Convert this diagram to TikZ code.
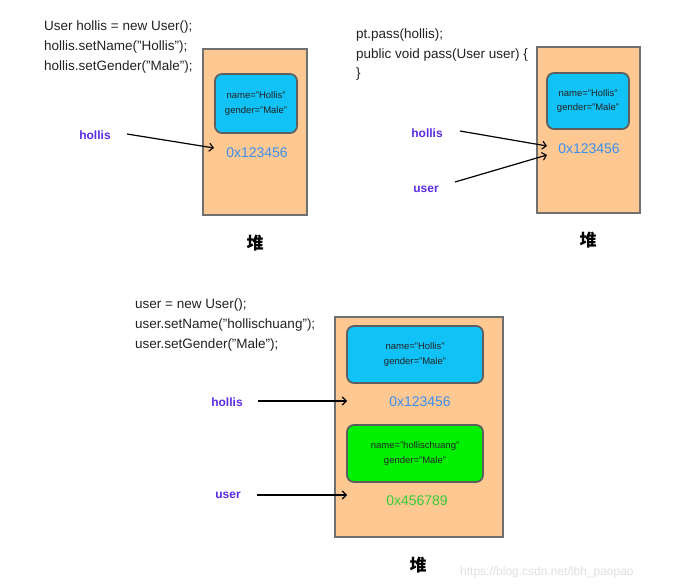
\documentclass[tikz,border=0pt]{standalone}
\usepackage{fontspec}
\setmainfont{Liberation Sans}
\newfontfamily\cjk{Noto Sans CJK SC}
\usetikzlibrary{arrows.meta}
\definecolor{heapfill}{HTML}{FEC892}
\definecolor{heapdraw}{HTML}{707070}
\definecolor{objblue}{HTML}{11C2F6}
\definecolor{objgreen}{HTML}{00F000}
\definecolor{objdraw}{HTML}{5E5E5E}
\definecolor{varpurple}{HTML}{5A2BE3}
\definecolor{addrblue}{HTML}{3C8EEE}
\definecolor{addrgreen}{HTML}{35CC35}
\definecolor{codegray}{HTML}{222222}
\tikzset{
  heapbox/.style={draw=heapdraw, fill=heapfill, line width=1.8pt, inner sep=0pt},
  objbox/.style={draw=objdraw, line width=1.8pt, rounded corners=7pt, inner sep=0pt, align=center, font=\fontsize{9.5}{14.5}\selectfont, text=codegray},
  code/.style={anchor=west, inner sep=0pt, font=\fontsize{13.5}{15}\selectfont, text=codegray},
  varname/.style={inner sep=1pt, font=\bfseries\fontsize{12}{14}\selectfont, text=varpurple},
  addr/.style={inner sep=0pt, font=\fontsize{14}{16}\selectfont},
  heaplabel/.style={inner sep=0pt, font=\cjk\bfseries\fontsize{17}{19}\selectfont},
  ptr/.style={-{Straight Barb[length=4pt,width=8pt,line width=1.1pt]}, line width=1.2pt, black}
}
\begin{document}
\begin{tikzpicture}[x=1pt,y=-1pt]
\useasboundingbox[fill=white] (0,0) rectangle (696,588);
% ---------- panel 1 ----------
\node[code] (c1a) at (44,27) {User hollis = new User();};
\node[code] (c1b) at (44,47) {hollis.setName("Hollis");};
\node[code] (c1c) at (44,67) {hollis.setGender("Male");};
\node[heapbox, minimum width=104pt, minimum height=166pt] (heap1) at (255,132) {};
\node[objbox, fill=objblue, minimum width=82pt, minimum height=59pt] (obj1) at (256,103.5) {name="Hollis"\\gender="Male"};
\node[addr, text=addrblue] (addr1) at (257,153) {0x123456};
\node[varname] (hollis1) at (95,135) {hollis};
\coordinate (s1) at (127,134);
\coordinate (t1) at (214,148);
\draw[ptr] (s1) -- (t1);
\node[heaplabel] (heaplab1) at (255,243) {堆};
% ---------- panel 2 ----------
\node[code] (c2a) at (356,35) {pt.pass(hollis);};
\node[code] (c2b) at (356,55) {public void pass(User user) \{};
\node[code] (c2c) at (356,74) {\}};
\node[heapbox, minimum width=103pt, minimum height=166pt] (heap2) at (588.5,130) {};
\node[objbox, fill=objblue, minimum width=82pt, minimum height=56pt] (obj2) at (588,101) {name="Hollis"\\gender="Male"};
\node[addr, text=addrblue] (addr2) at (589,149) {0x123456};
\node[varname] (hollis2) at (427,133) {hollis};
\node[varname] (user2) at (426,189) {user};
\coordinate (t2a) at (547,146);
\coordinate (t2b) at (547,155);
\coordinate (s2a) at (460,131);
\coordinate (s2b) at (455,182);
\draw[ptr] (s2a) -- (t2a);
\draw[ptr] (s2b) -- (t2b);
\node[heaplabel] (heaplab2) at (588,240) {堆};
% ---------- panel 3 ----------
\node[code] (c3a) at (135,305) {user = new User();};
\node[code] (c3b) at (135,325) {user.setName("hollischuang");};
\node[code] (c3c) at (135,345) {user.setGender("Male");};
\node[heapbox, minimum width=168pt, minimum height=220pt] (heap3) at (419,427) {};
\node[objbox, fill=objblue, minimum width=136pt, minimum height=57pt] (obj3) at (415,354.5) {name="Hollis"\\gender="Male"};
\node[addr, text=addrblue] (addr3) at (420,402) {0x123456};
\node[objbox, fill=objgreen, minimum width=136pt, minimum height=57pt] (obj4) at (415,453.5) {name="hollischuang"\\gender="Male"};
\node[addr, text=addrgreen] (addr4) at (417,501) {0x456789};
\node[varname] (hollis3) at (227,402) {hollis};
\node[varname] (user3) at (228,495) {user};
\coordinate (s3a) at (258,401);
\coordinate (t3a) at (347,401);
\coordinate (s3b) at (257,495);
\coordinate (t3b) at (347,495);
\draw[ptr] (s3a) -- (t3a);
\draw[ptr] (s3b) -- (t3b);
\node[heaplabel] (heaplab3) at (418,565) {堆};
% watermark
\node[anchor=west, inner sep=0pt, text=black!12, font=\fontsize{12}{14}\selectfont] (wm) at (460,572) {https://blog.csdn.net/lbh\_paopao};
\end{tikzpicture}
\end{document}
